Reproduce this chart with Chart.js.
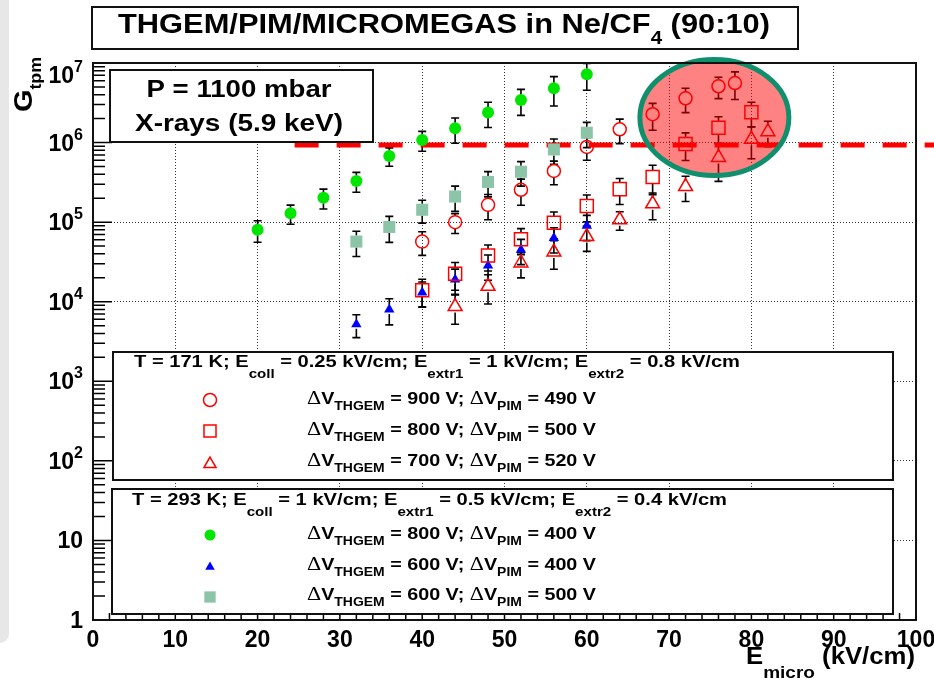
<!DOCTYPE html>
<html>
<head>
<meta charset="utf-8">
<script src="https://cdn.jsdelivr.net/npm/chart.js@4.4.1/dist/chart.umd.min.js"></script>
<style>
  html, body { margin: 0; padding: 0; background: #fff; }
  canvas { display: block; }
</style>
</head>
<body>
<canvas id="chart" width="934" height="681"></canvas>
<script>
// E_micro (kV/cm), gain and relative error

// T = 171 K
const eCircle = [40, 44, 48, 52, 56, 60, 64, 68, 72, 76, 78];
const gCircle = [5.7e4, 1.0e5, 1.65e5, 2.55e5, 4.4e5, 8.8e5, 1.47e6, 2.27e6, 3.6e6, 5.1e6, 5.6e6];
const errCircle = [0.33, 0.28, 0.35, 0.36, 0.33, 0.32, 0.34, 0.37, 0.34, 0.3, 0.38];

const eSquare = [40, 44, 48, 52, 56, 60, 64, 68, 72, 76, 80];
const gSquare = [1.39e4, 2.25e4, 3.8e4, 6.1e4, 9.8e4, 1.6e5, 2.6e5, 3.7e5, 9.6e5, 1.54e6, 2.4e6];
const errSquare = [0.38, 0.38, 0.36, 0.36, 0.37, 0.37, 0.36, 0.4, 0.38, 0.37, 0.34];

const eTriangle = [44, 48, 52, 56, 60, 64, 68, 72, 76, 80, 82];
const gTriangle = [8.7e3, 1.56e4, 3.07e4, 4.2e4, 6.6e4, 1.07e5, 1.7e5, 2.8e5, 6.5e5, 1.1e6, 1.37e6];
const errTriangle = [0.4, 0.4, 0.35, 0.39, 0.35, 0.26, 0.37, 0.35, 0.5, 0.43, 0.35];

// T = 293 K
const eGreen = [20, 24, 28, 32, 36, 40, 44, 48, 52, 56, 60];
const gGreen = [8.0e4, 1.29e5, 2.03e5, 3.3e5, 6.8e5, 1.08e6, 1.51e6, 2.38e6, 3.43e6, 4.81e6, 7.2e6];
const errGreen = [0.3, 0.27, 0.28, 0.28, 0.26, 0.28, 0.35, 0.35, 0.36, 0.4, 0.37];

const eBlue = [32, 36, 40, 44, 48, 52, 56, 60];
const gBlue = [5.2e3, 8.0e3, 1.31e4, 1.9e4, 2.86e4, 4.5e4, 6.3e4, 9.0e4];
const errBlue = [0.32, 0.36, 0.35, 0.35, 0.35, 0.35, 0.35, 0.35];

const eTeal = [32, 36, 40, 44, 48, 52, 56, 60];
const gTeal = [5.7e4, 8.7e4, 1.43e5, 2.1e5, 3.2e5, 4.3e5, 8.2e5, 1.33e6];
const errTeal = [0.35, 0.36, 0.32, 0.35, 0.35, 0.34, 0.35, 0.35];

// red dashed limit line
const limitGain = 9.3e5;
const limitFrom = 24.5;
const limitTo = 102.2;

// highlighted region (data coords)
const zoneX = 75.5, zoneG = 2.07e6, zoneRx = 9.05, zoneRyDec = 0.729;

const xTicks = [0, 10, 20, 30, 40, 50, 60, 70, 80, 90, 100];
const yExps = [0, 1, 2, 3, 4, 5, 6, 7];

const title = 'THGEM/PIM/MICROMEGAS in Ne/CF';
const infoLines = ['P = 1100 mbar', 'X-rays (5.9 keV)'];
const cold = ['T = 171 K; E', 'coll', ' = 0.25 kV/cm; E', 'extr1', ' = 1 kV/cm; E', 'extr2', ' = 0.8 kV/cm'];
const warm = ['T = 293 K; E', 'coll', ' = 1 kV/cm; E', 'extr1', ' = 0.5 kV/cm; E', 'extr2', ' = 0.4 kV/cm'];
const coldRows = [['900', '490'], ['800', '500'], ['700', '520']];
const warmRows = [['800', '400'], ['600', '400'], ['600', '500']];

const SANS = '"Liberation Sans"', SERIF = '"Liberation Serif"';
const RED = '#ff0000', GREEN = '#00e600', BLUE = '#0000ff', TEAL = '#8cc4a8';

function pts(xs, ys) { return xs.map((x, i) => ({ x: x, y: ys[i] })); }

function series(xs, ys, err, style, radius, color, open, gap) {
  return {
    data: pts(xs, ys), err: err, gap: gap,
    pointStyle: style, pointRadius: radius, pointHoverRadius: radius,
    backgroundColor: open ? 'rgba(0,0,0,0)' : color,
    borderColor: color, borderWidth: open ? 1.5 : 0,
    showLine: false
  };
}

// text pieces: [text, size, dy, family, weight]
function rich(ctx, parts, x, y, w, align) {
  const widths = [];
  let total = 0;
  parts.forEach(p => {
    ctx.font = (p[4] || 'bold') + ' ' + p[1] + 'px ' + (p[3] || SANS);
    const m = ctx.measureText(p[0]).width;
    widths.push(m);
    total += m;
  });
  const k = w ? w / total : 1;
  let sx = x;
  if (align === 'center') sx = x - total * k / 2;
  else if (align === 'right') sx = x - total * k;
  ctx.save();
  ctx.translate(sx, y);
  ctx.scale(k, 1);
  ctx.textAlign = 'left';
  ctx.textBaseline = 'alphabetic';
  ctx.fillStyle = '#000';
  let cx = 0;
  parts.forEach((p, i) => {
    ctx.font = (p[4] || 'bold') + ' ' + p[1] + 'px ' + (p[3] || SANS);
    ctx.fillText(p[0], cx, p[2] || 0);
    cx += widths[i];
  });
  ctx.restore();
}

function box(ctx, x1, y1, x2, y2) {
  ctx.fillStyle = '#fff';
  ctx.fillRect(x1, y1, x2 - x1, y2 - y1);
  ctx.lineWidth = 2;
  ctx.strokeStyle = '#111';
  ctx.strokeRect(x1, y1, x2 - x1, y2 - y1);
}

function header(parts) {
  return [[parts[0], 16], [parts[1], 12, 11], [parts[2], 16], [parts[3], 12, 11],
          [parts[4], 16], [parts[5], 12, 11], [parts[6], 16]];
}

function row(v1, v2) {
  return [['\u0394', 19, 0, SERIF, 'normal'], ['V', 17], ['THGEM', 12, 6], [' = ' + v1 + ' V; ', 17],
          ['\u0394', 19, 0, SERIF, 'normal'], ['V', 17], ['PIM', 12, 6], [' = ' + v2 + ' V', 17]];
}

function marker(ctx, style, r, color, open, x, y) {
  ctx.save();
  ctx.fillStyle = open ? 'rgba(0,0,0,0)' : color;
  ctx.strokeStyle = color;
  ctx.lineWidth = 1.5;
  Chart.helpers.drawPoint(ctx, { pointStyle: style, radius: r, rotation: 0, borderWidth: open ? 1.5 : 0 }, x, y);
  ctx.restore();
}

const decor = {
  id: 'decor',
  beforeDraw(chart) {
    const ctx = chart.ctx;
    ctx.save();
    ctx.fillStyle = '#fff';
    ctx.fillRect(0, 0, chart.width, chart.height);
    ctx.fillStyle = '#e7e7e7';
    ctx.beginPath();
    ctx.moveTo(0, 0);
    ctx.lineTo(9, 0);
    ctx.lineTo(9, 634);
    ctx.arcTo(9, 643, 0, 643, 9);
    ctx.lineTo(0, 643);
    ctx.closePath();
    ctx.fill();
    ctx.restore();
  },
  beforeDatasetsDraw(chart) {
    const ctx = chart.ctx, xs = chart.scales.x, ys = chart.scales.y;
    ctx.save();
    ctx.strokeStyle = '#000';
    ctx.lineWidth = 1.6;
    chart.data.datasets.forEach(ds => {
      if (!ds.err) return;
      ds.data.forEach((p, i) => {
        const px = xs.getPixelForValue(p.x);
        const py = ys.getPixelForValue(p.y);
        const hi = ys.getPixelForValue(p.y * (1 + ds.err[i]));
        const lo = ys.getPixelForValue(p.y * (1 - ds.err[i]));
        ctx.beginPath();
        if (hi < py - ds.gap) { ctx.moveTo(px, hi); ctx.lineTo(px, py - ds.gap); }
        if (lo > py + ds.gap) { ctx.moveTo(px, py + ds.gap); ctx.lineTo(px, lo); }
        ctx.moveTo(px - 4, hi); ctx.lineTo(px + 4, hi);
        ctx.moveTo(px - 4, lo); ctx.lineTo(px + 4, lo);
        ctx.stroke();
      });
    });
    ctx.restore();
  },
  afterDatasetsDraw(chart) {
    const ctx = chart.ctx, xs = chart.scales.x, ys = chart.scales.y;
    const cx = xs.getPixelForValue(zoneX);
    const cy = ys.getPixelForValue(zoneG);
    const rx = xs.getPixelForValue(zoneX + zoneRx) - cx;
    const ry = cy - ys.getPixelForValue(zoneG * Math.pow(10, zoneRyDec));
    ctx.save();
    ctx.beginPath();
    ctx.ellipse(cx, cy, rx, ry, 0, 0, Math.PI * 2);
    ctx.fillStyle = 'rgba(255,0,0,0.49)';
    ctx.fill();
    ctx.lineWidth = 5;
    ctx.strokeStyle = '#0f8f6c';
    ctx.stroke();
    ctx.restore();
  },
  afterDraw(chart) {
    const ctx = chart.ctx, xs = chart.scales.x, ys = chart.scales.y;
    const a = chart.chartArea;
    ctx.save();
    // axis ticks
    ctx.strokeStyle = '#000';
    ctx.lineWidth = 1.5;
    ctx.beginPath();
    yExps.forEach(e => {
      const y0 = ys.getPixelForValue(Math.pow(10, e));
      ctx.moveTo(a.left, y0); ctx.lineTo(a.left + 19, y0);
      if (e < 7) {
        for (let m = 2; m <= 9; m++) {
          const y1 = ys.getPixelForValue(m * Math.pow(10, e));
          ctx.moveTo(a.left, y1); ctx.lineTo(a.left + 12, y1);
        }
      }
    });
    for (let v = 0; v <= 100; v += 2) {
      const x0 = xs.getPixelForValue(v);
      ctx.moveTo(x0, a.bottom); ctx.lineTo(x0, a.bottom - (v % 10 === 0 ? 13 : 7));
    }
    ctx.stroke();
    // frame
    ctx.lineWidth = 2;
    ctx.strokeStyle = '#111';
    ctx.strokeRect(a.left, a.top, a.right - a.left, a.bottom - a.top);

    // tick labels
    yExps.forEach(e => {
      const y0 = ys.getPixelForValue(Math.pow(10, e));
      const base = e === 7 ? y0 + 20 : y0 + 8;
      if (e === 0) rich(ctx, [['1', 23]], 83, base, null, 'right');
      else if (e === 1) rich(ctx, [['10', 23]], 83, base, null, 'right');
      else rich(ctx, [['10', 23], [String(e), 16, -11]], 83, base, null, 'right');
    });
    xTicks.forEach(v => {
      rich(ctx, [[String(v), 23]], xs.getPixelForValue(v), 647, null, 'center');
    });

    // axis titles
    rich(ctx, [['E', 23], ['micro', 17, 14], [' (kV/cm)', 23]], 746, 664, 169);
    ctx.save();
    ctx.translate(32, 112);
    ctx.rotate(-Math.PI / 2);
    rich(ctx, [['G', 26], ['tpm', 16, 9]], 0, 0, 55);
    ctx.restore();

    // title and info box
    box(ctx, 92, 7, 798, 49);
    rich(ctx, [[title, 27], ['4', 18, 11], [' (90:10)', 27]], 118, 33, 652);
    box(ctx, 110, 70, 373, 142);
    rich(ctx, [[infoLines[0], 23]], 239, 97, 185, 'center');
    rich(ctx, [[infoLines[1], 23]], 239, 131, 208, 'center');

    // legends
    box(ctx, 113, 352, 893, 480);
    rich(ctx, header(cold), 134, 367, 606);
    const coldMarks = [['circle', 6.5], ['rect', 8.5], ['triangle', 7]];
    const coldY = [400, 431, 464];
    const coldBase = [404, 435, 466];
    coldRows.forEach((r, i) => {
      marker(ctx, coldMarks[i][0], coldMarks[i][1], RED, true, 210, coldY[i]);
      rich(ctx, row(r[0], r[1]), 307, coldBase[i], 289);
    });

    box(ctx, 112, 489, 893, 614);
    rich(ctx, header(warm), 132, 505, 595);
    const warmMarks = [['circle', 5.5, GREEN], ['triangle', 5.5, BLUE], ['rect', 8, TEAL]];
    const warmY = [535, 567, 597];
    const warmBase = [539, 570, 600];
    warmRows.forEach((r, i) => {
      marker(ctx, warmMarks[i][0], warmMarks[i][1], warmMarks[i][2], false, 210, warmY[i]);
      rich(ctx, row(r[0], r[1]), 307, warmBase[i], 289);
    });
    ctx.restore();
  }
};

const gridColor = (c) => (c.tick && (c.index === 0 || c.index === c.chart.scales[c.scale.id].ticks.length - 1)) ? 'rgba(0,0,0,0)' : '#333';

new Chart(document.getElementById('chart'), {
  type: 'scatter',
  data: {
    datasets: [
      series(eCircle, gCircle, errCircle, 'circle', 6.5, RED, true, 6.5),
      series(eSquare, gSquare, errSquare, 'rect', 9.2, RED, true, 6.5),
      series(eTriangle, gTriangle, errTriangle, 'triangle', 8, RED, true, 6),
      series(eGreen, gGreen, errGreen, 'circle', 6, GREEN, false, 5.5),
      series(eBlue, gBlue, errBlue, 'triangle', 6, BLUE, false, 4.5),
      series(eTeal, gTeal, errTeal, 'rect', 8.5, TEAL, false, 6),
      {
        type: 'line',
        data: [{ x: limitFrom, y: limitGain }, { x: limitTo, y: limitGain }],
        borderColor: RED, borderWidth: 5, borderDash: [24, 18],
        pointRadius: 0, showLine: true, clip: false, order: 10, fill: false
      }
    ]
  },
  options: {
    responsive: false,
    animation: false,
    devicePixelRatio: 1,
    layout: { padding: { left: 93, right: 18, top: 63, bottom: 61 } },
    plugins: { legend: { display: false }, tooltip: { enabled: false }, title: { display: false } },
    scales: {
      x: {
        type: 'linear', min: 0, max: 100,
        ticks: { display: false, stepSize: 10 },
        grid: { color: gridColor, lineWidth: 1, drawTicks: false },
        border: { display: false, dash: [1, 2] },
        afterFit(s) { s.height = 0; }
      },
      y: {
        type: 'logarithmic', min: 1, max: 1e7,
        ticks: { display: false },
        afterBuildTicks(s) { s.ticks = yExps.map(e => ({ value: Math.pow(10, e) })); },
        grid: { color: gridColor, lineWidth: 1, drawTicks: false },
        border: { display: false, dash: [1, 2] },
        afterFit(s) { s.width = 0; }
      }
    }
  },
  plugins: [decor]
});
</script>
</body>
</html>
